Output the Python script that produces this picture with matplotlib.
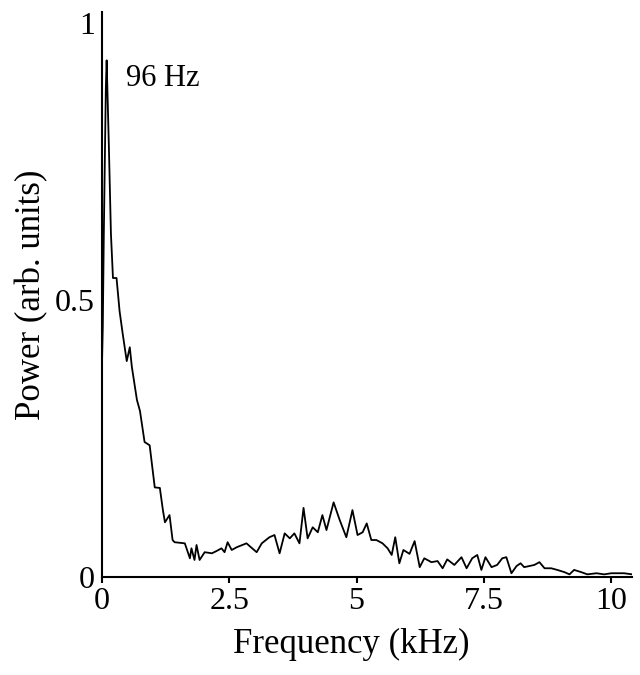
import matplotlib
matplotlib.use("Agg")
import matplotlib.pyplot as plt

# power spectrum (kHz, arb. units)
freq = [0.0, 0.02, 0.04, 0.08, 0.096, 0.14, 0.18, 0.22, 0.29, 0.35, 0.41,
        0.49, 0.55, 0.59, 0.69, 0.75, 0.84, 0.94, 1.04, 1.14, 1.20, 1.24,
        1.33, 1.39, 1.43, 1.63, 1.73, 1.76, 1.82, 1.86, 1.92, 2.02, 2.16,
        2.25, 2.35, 2.41, 2.47, 2.55, 2.65, 2.84, 3.04, 3.14, 3.29, 3.39,
        3.49, 3.59, 3.69, 3.78, 3.88, 3.96, 4.04, 4.14, 4.24, 4.33, 4.41,
        4.55, 4.67, 4.80, 4.92, 5.02, 5.12, 5.20, 5.29, 5.39, 5.51, 5.61,
        5.69, 5.76, 5.84, 5.92, 6.04, 6.14, 6.24, 6.33, 6.47, 6.59, 6.69,
        6.78, 6.92, 7.06, 7.16, 7.27, 7.37, 7.45, 7.53, 7.65, 7.76, 7.86,
        7.94, 8.04, 8.14, 8.22, 8.29, 8.39, 8.49, 8.59, 8.69, 8.82, 8.94,
        9.08, 9.18, 9.27, 9.41, 9.53, 9.71, 9.86, 10.0, 10.12, 10.25, 10.41]
power = [0.368, 0.451, 0.617, 0.883, 0.933, 0.776, 0.62, 0.54, 0.54, 0.48,
         0.44, 0.39, 0.415, 0.38, 0.32, 0.30, 0.244, 0.238, 0.162, 0.161,
         0.121, 0.099, 0.112, 0.067, 0.063, 0.061, 0.034, 0.052, 0.031,
         0.058, 0.031, 0.045, 0.043, 0.047, 0.052, 0.045, 0.063, 0.049,
         0.054, 0.061, 0.045, 0.061, 0.072, 0.076, 0.043, 0.079, 0.070,
         0.079, 0.061, 0.125, 0.070, 0.090, 0.081, 0.112, 0.085, 0.135,
         0.103, 0.072, 0.121, 0.076, 0.081, 0.097, 0.067, 0.067, 0.061,
         0.052, 0.040, 0.072, 0.025, 0.049, 0.042, 0.065, 0.018, 0.034,
         0.027, 0.029, 0.016, 0.032, 0.022, 0.036, 0.016, 0.034, 0.040,
         0.013, 0.036, 0.018, 0.022, 0.034, 0.036, 0.007, 0.020, 0.025,
         0.018, 0.020, 0.022, 0.027, 0.016, 0.016, 0.013, 0.009, 0.005,
         0.013, 0.009, 0.005, 0.007, 0.005, 0.007, 0.007, 0.007, 0.005]

xticks = [0, 2.5, 5, 7.5, 10]
xtick_labels = ["0", "2.5", "5", "7.5", "10"]
yticks = [0, 0.5, 1]
ytick_labels = ["0", "0.5", "1"]

plt.rcParams['font.family'] = ['Liberation Serif', 'DejaVu Serif']

fig = plt.figure(figsize=(6.4, 6.75), dpi=100)
ax = fig.add_axes([0.159, 0.145, 0.828, 0.837])

ax.plot(freq, power, color="black", lw=1.3)
ax.text(0.47, 0.90, "96 Hz", fontsize=22, ha="left", va="center")

ax.set_xlim(0, 10.4)
ax.set_ylim(0, 1.02)
ax.set_xticks(xticks)
ax.set_xticklabels(xtick_labels)
ax.set_yticks(yticks)
ax.set_yticklabels(ytick_labels)

for s in ["top", "right"]:
    ax.spines[s].set_visible(False)
for s in ["left", "bottom"]:
    ax.spines[s].set_linewidth(1.5)

ax.tick_params(axis="x", length=4, width=1.5, labelsize=23, pad=3)
ax.tick_params(axis="y", length=0, labelsize=23, pad=5)

ax.set_xlabel("Frequency (kHz)", fontsize=25, labelpad=9)
ax.xaxis.label.set_x(0.47)
ax.set_ylabel("Power (arb. units)", fontsize=25, labelpad=5)

fig.savefig("out.png", dpi=100)
